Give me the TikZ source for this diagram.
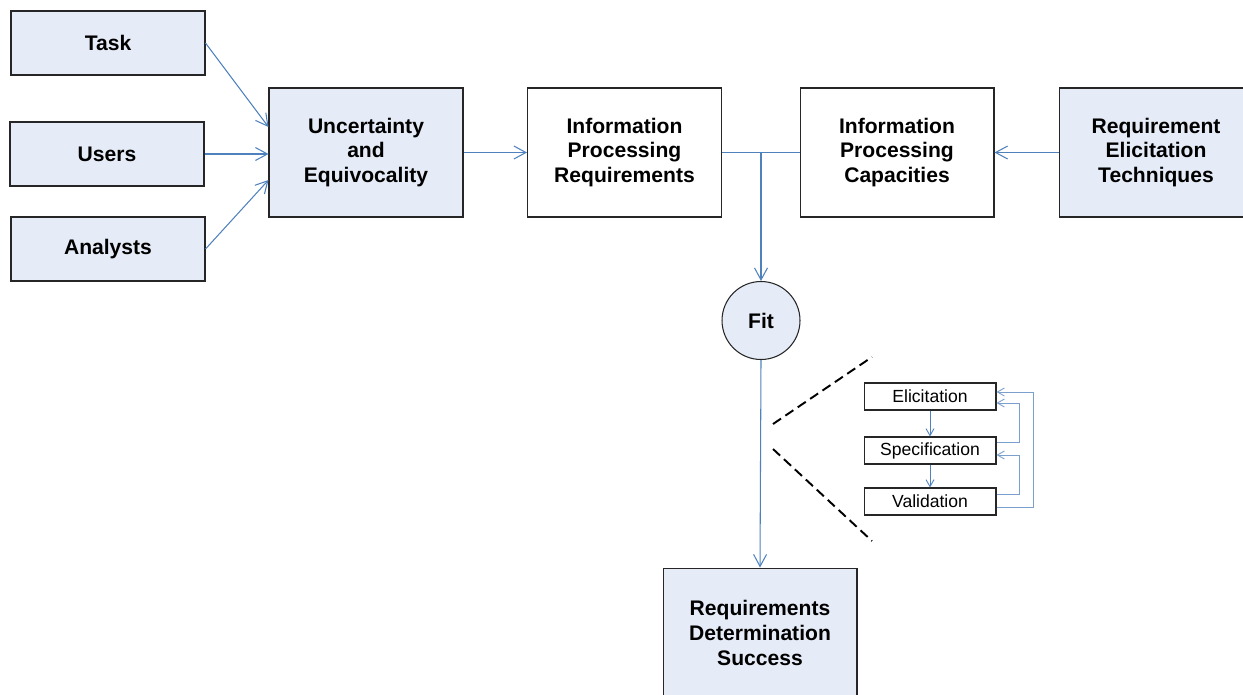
\documentclass[tikz,border=0pt]{standalone}
\usepackage{fontspec}
\setmainfont{Liberation Sans}
\usetikzlibrary{arrows.meta}
\definecolor{boxfill}{RGB}{230,236,247}
\definecolor{linkblue}{RGB}{79,129,189}
\begin{document}
\begin{tikzpicture}
        [x=0.02cm, y=-0.02cm,
        box/.style={rectangle, draw=black!85, line width=0.6pt, inner sep=2pt, align=center,
          font=\fontsize{12}{14.2}\selectfont\bfseries, minimum width=3.88cm},
        inbox/.style={box, fill=boxfill, minimum height=1.28cm},
        bigbox/.style={box, minimum height=2.58cm},
        fitnode/.style={circle, draw=black!85, line width=0.6pt, fill=boxfill, minimum size=1.56cm,
          inner sep=0pt, font=\fontsize{12}{14.2}\selectfont\bfseries},
        smallbox/.style={rectangle, draw=black!85, line width=0.6pt, inner sep=0pt,
          minimum width=2.64cm, minimum height=0.54cm, font=\fontsize{10}{12}\selectfont},
        arr/.style={draw=linkblue, line width=0.6pt, -{Straight Barb[length=0.24cm, width=0.26cm]}},
        link/.style={draw=linkblue, line width=0.6pt},
        sarr/.style={draw=linkblue, line width=0.5pt, -{Straight Barb[length=0.14cm, width=0.16cm]}},
        loop/.style={sarr, draw=linkblue!75},
        cut/.style={draw=black, line width=1.1pt, dash pattern=on 5.5pt off 3pt},
        ]
        \useasboundingbox (0,0) rectangle (1243,694);
        \node[inbox] (task) at (108,43) {Task};
        \node[inbox] (users) at (107,154) {Users};
        \node[inbox] (analysts) at (108,249) {Analysts};
        \node[bigbox, fill=boxfill] (unc) at (366,152.5) {Uncertainty\\and\\Equivocality};
        \node[bigbox] (ipr) at (624.5,152.5) {Information\\Processing\\Requirements};
        \node[bigbox] (ipc) at (897,152.5) {Information\\Processing\\Capacities};
        \node[bigbox, fill=boxfill] (ret) at (1156,152.5) {Requirement\\Elicitation\\Techniques};
        \node[fitnode] (fit) at (761,320.5) {Fit};
        \node[bigbox, fill=boxfill] (rds) at (760,632.5) {Requirements\\Determination\\Success};
        \node[smallbox] (eli) at (930,396.5) {Elicitation};
        \node[smallbox] (spe) at (930,450.5) {Specification};
        \node[smallbox] (val) at (930,501.5) {Validation};

        \draw[arr] (task.east) -- ([yshift=0.51cm]unc.west);
        \draw[arr] (users.east) -- (users.east -| unc.west);
        \draw[arr] (analysts.east) -- ([yshift=-0.55cm]unc.west);
        \draw[arr] (unc.east) -- (ipr.west);
        \draw[link] (ipr.east) -- (ipc.west);
        \draw[arr] (ipr.east -| fit.north) -- (fit.north);
        \draw[arr] (ret.west) -- (ipc.east);
        \draw[arr] (fit.south) -- (rds.north);

        \draw[cut] (773,424) -- (872,357);
        \draw[cut] (773,449) -- (872,541);

        \draw[sarr] (eli.south) -- (spe.north);
        \draw[sarr] (spe.south) -- (val.north);
        \draw[loop] ([yshift=0.17cm]spe.east) -- ++(23,0) |- ([yshift=-0.13cm]eli.east);
        \draw[loop] ([yshift=0.15cm]val.east) -- ++(23,0) |- ([yshift=-0.09cm]spe.east);
        \draw[loop] ([yshift=-0.11cm]val.east) -- ++(37,0) |- ([yshift=0.09cm]eli.east);
\end{tikzpicture}
\end{document}
